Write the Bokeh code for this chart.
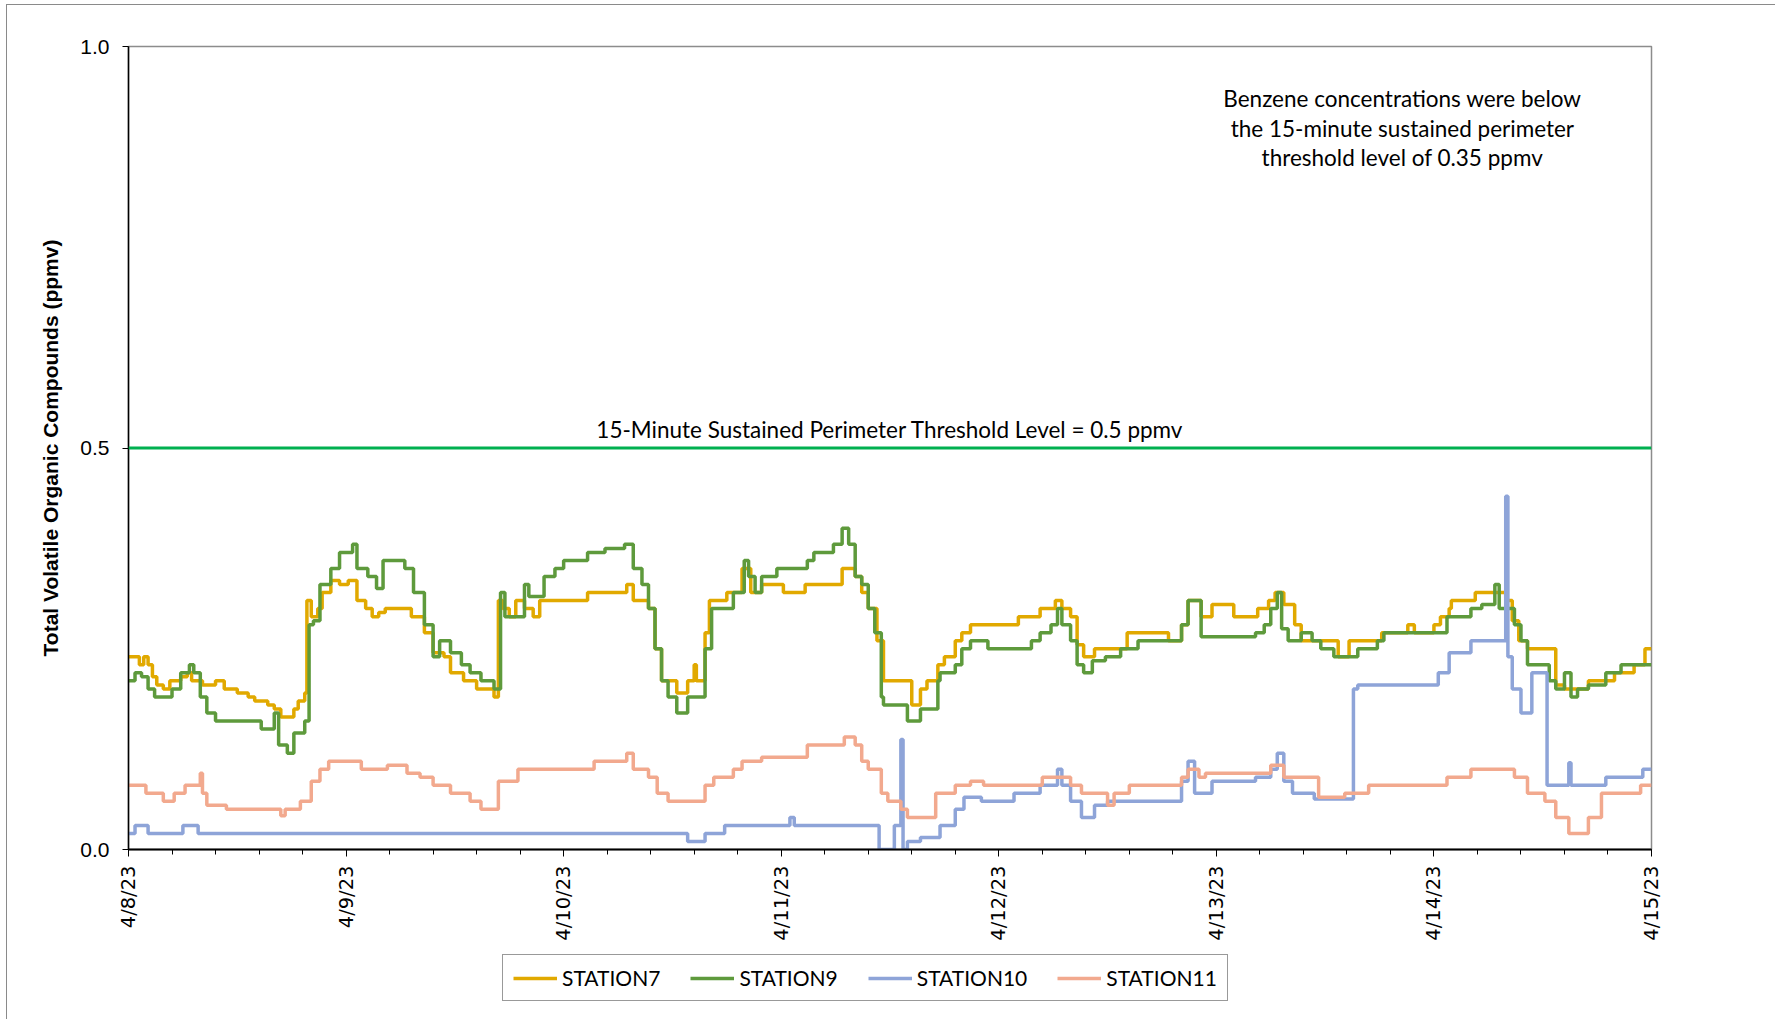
import math
from bokeh.plotting import figure
from bokeh.layouts import column
from bokeh.models import FixedTicker, Span, Label, Legend, LegendItem
from bokeh.embed import file_html
from bokeh.resources import INLINE

# ---------------- data ----------------
DATE_LABELS = ["4/8/23", "4/9/23", "4/10/23", "4/11/23", "4/12/23", "4/13/23", "4/14/23", "4/15/23"]
THRESHOLD = 0.5
THRESHOLD_TEXT = "15-Minute Sustained Perimeter Threshold Level = 0.5 ppmv"
NOTE_LINES = ["Benzene concentrations were below",
              "the 15-minute sustained perimeter",
              "threshold level of 0.35 ppmv"]
Y_LABEL = "Total Volatile Organic Compounds (ppmv)"
SERIES_NAMES = ["STATION7", "STATION9", "STATION10", "STATION11"]

# days since 4/8/23 00:00 (step start) and ppmv
S7_DAY = [0.00, 0.05, 0.07, 0.09, 0.11, 0.13, 0.16, 0.19, 0.24, 0.27, 0.29, 0.34, 0.40, 0.44, 0.50, 0.55,
          0.58, 0.64, 0.67, 0.70, 0.76, 0.78, 0.81, 0.82, 0.84, 0.87, 0.89, 0.93, 0.97, 1.01, 1.05, 1.09,
          1.12, 1.15, 1.18, 1.30, 1.36, 1.40, 1.45, 1.48, 1.54, 1.60, 1.68, 1.70, 1.72, 1.75, 1.78, 1.82,
          1.86, 1.89, 2.11, 2.29, 2.32, 2.39, 2.42, 2.45, 2.52, 2.57, 2.60, 2.61, 2.65, 2.67, 2.75, 2.82,
          2.86, 2.91, 3.01, 3.11, 3.28, 3.34, 3.37, 3.40, 3.44, 3.47, 3.60, 3.64, 3.67, 3.72, 3.75, 3.80,
          3.83, 3.87, 4.09, 4.19, 4.26, 4.29, 4.33, 4.36, 4.39, 4.44, 4.59, 4.78, 4.84, 4.87, 4.93, 4.98,
          5.08, 5.19, 5.24, 5.27, 5.31, 5.36, 5.39, 5.56, 5.61, 5.76, 5.88, 5.91, 6.00, 6.03, 6.07, 6.08,
          6.19, 6.33, 6.36, 6.39, 6.43, 6.56, 6.60, 6.71, 6.83, 6.92, 6.97, 7.00]
S7_PPMV = [0.24, 0.23, 0.24, 0.23, 0.215, 0.205, 0.20, 0.21, 0.215, 0.22, 0.21, 0.205, 0.21, 0.20, 0.195, 0.19,
           0.185, 0.18, 0.175, 0.165, 0.175, 0.185, 0.195, 0.31, 0.29, 0.30, 0.32, 0.335, 0.33, 0.335, 0.31, 0.30,
           0.29, 0.295, 0.30, 0.29, 0.27, 0.245, 0.24, 0.22, 0.21, 0.20, 0.19, 0.31, 0.30, 0.29, 0.31, 0.30,
           0.29, 0.31, 0.32, 0.33, 0.31, 0.30, 0.25, 0.21, 0.195, 0.21, 0.23, 0.21, 0.27, 0.31, 0.32, 0.35,
           0.32, 0.33, 0.32, 0.33, 0.35, 0.34, 0.32, 0.30, 0.26, 0.21, 0.18, 0.20, 0.21, 0.23, 0.24, 0.26,
           0.27, 0.28, 0.29, 0.30, 0.31, 0.30, 0.29, 0.255, 0.24, 0.25, 0.27, 0.26, 0.28, 0.31, 0.29, 0.305,
           0.29, 0.30, 0.31, 0.32, 0.305, 0.28, 0.26, 0.24, 0.26, 0.27, 0.28, 0.27, 0.28, 0.29, 0.30, 0.31,
           0.32, 0.31, 0.285, 0.26, 0.25, 0.205, 0.20, 0.21, 0.22, 0.23, 0.25, 0.25]

S9_DAY = [0.00, 0.03, 0.06, 0.09, 0.12, 0.20, 0.24, 0.28, 0.30, 0.33, 0.36, 0.40, 0.61, 0.67, 0.69, 0.73,
          0.76, 0.81, 0.83, 0.85, 0.88, 0.93, 0.97, 1.03, 1.05, 1.10, 1.14, 1.17, 1.27, 1.31, 1.36, 1.40,
          1.43, 1.48, 1.53, 1.57, 1.62, 1.68, 1.71, 1.73, 1.82, 1.84, 1.91, 1.96, 2.00, 2.11, 2.19, 2.28,
          2.32, 2.36, 2.39, 2.42, 2.45, 2.48, 2.52, 2.57, 2.65, 2.68, 2.78, 2.83, 2.85, 2.88, 2.91, 2.98,
          3.12, 3.15, 3.24, 3.28, 3.31, 3.34, 3.37, 3.40, 3.43, 3.46, 3.47, 3.58, 3.64, 3.72, 3.73, 3.80,
          3.83, 3.87, 3.95, 4.15, 4.19, 4.24, 4.27, 4.29, 4.33, 4.36, 4.39, 4.43, 4.49, 4.56, 4.64, 4.84,
          4.87, 4.93, 5.18, 5.22, 5.25, 5.28, 5.30, 5.33, 5.39, 5.44, 5.48, 5.54, 5.65, 5.74, 5.77, 6.06,
          6.17, 6.22, 6.28, 6.30, 6.37, 6.40, 6.43, 6.53, 6.56, 6.60, 6.63, 6.66, 6.71, 6.79, 6.86, 7.00]
S9_PPMV = [0.21, 0.22, 0.215, 0.20, 0.19, 0.20, 0.22, 0.23, 0.22, 0.19, 0.17, 0.16, 0.15, 0.17, 0.13, 0.12,
           0.145, 0.16, 0.28, 0.285, 0.33, 0.35, 0.37, 0.38, 0.35, 0.34, 0.325, 0.36, 0.35, 0.32, 0.28, 0.24,
           0.26, 0.245, 0.23, 0.22, 0.21, 0.20, 0.32, 0.29, 0.33, 0.315, 0.34, 0.35, 0.36, 0.37, 0.375, 0.38,
           0.35, 0.33, 0.30, 0.25, 0.21, 0.19, 0.17, 0.19, 0.25, 0.30, 0.32, 0.36, 0.34, 0.32, 0.34, 0.35,
           0.36, 0.37, 0.38, 0.40, 0.38, 0.34, 0.33, 0.30, 0.27, 0.19, 0.18, 0.16, 0.175, 0.21, 0.22, 0.23,
           0.25, 0.26, 0.25, 0.26, 0.27, 0.28, 0.30, 0.28, 0.26, 0.23, 0.22, 0.235, 0.24, 0.25, 0.26, 0.28,
           0.31, 0.265, 0.27, 0.28, 0.30, 0.32, 0.275, 0.26, 0.27, 0.26, 0.25, 0.24, 0.25, 0.26, 0.27, 0.29,
           0.30, 0.305, 0.33, 0.30, 0.28, 0.26, 0.23, 0.21, 0.20, 0.22, 0.19, 0.20, 0.205, 0.22, 0.23, 0.23]

S10_DAY = [0.00, 0.03, 0.09, 0.25, 0.32, 2.57, 2.65, 2.74, 3.04, 3.06, 3.45, 3.52, 3.55, 3.56, 3.58, 3.64,
           3.73, 3.80, 3.84, 3.92, 4.07, 4.19, 4.27, 4.29, 4.33, 4.38, 4.44, 4.50, 4.84, 4.87, 4.90, 4.98,
           5.18, 5.25, 5.28, 5.31, 5.35, 5.45, 5.63, 5.65, 6.02, 6.07, 6.17, 6.33, 6.34, 6.36, 6.40, 6.45,
           6.52, 6.62, 6.63, 6.79, 6.96, 7.00]
S10_PPMV = [0.02, 0.03, 0.02, 0.03, 0.02, 0.01, 0.02, 0.03, 0.04, 0.03, 0.00, 0.03, 0.137, 0.00, 0.01, 0.015,
            0.03, 0.05, 0.065, 0.06, 0.07, 0.08, 0.10, 0.08, 0.06, 0.04, 0.055, 0.06, 0.085, 0.11, 0.07, 0.085,
            0.09, 0.10, 0.12, 0.085, 0.07, 0.063, 0.20, 0.205, 0.22, 0.245, 0.26, 0.44, 0.24, 0.20, 0.17, 0.22,
            0.08, 0.108, 0.08, 0.09, 0.10, 0.10]

S11_DAY = [0.00, 0.08, 0.16, 0.21, 0.26, 0.33, 0.34, 0.36, 0.45, 0.70, 0.72, 0.79, 0.84, 0.88, 0.92, 1.07,
           1.19, 1.28, 1.34, 1.40, 1.48, 1.57, 1.62, 1.70, 1.79, 2.14, 2.29, 2.32, 2.39, 2.43, 2.48, 2.65,
           2.69, 2.78, 2.82, 2.91, 3.12, 3.29, 3.34, 3.37, 3.40, 3.46, 3.49, 3.55, 3.58, 3.71, 3.80, 3.87,
           3.93, 4.20, 4.33, 4.38, 4.50, 4.53, 4.60, 4.84, 4.87, 4.92, 4.95, 5.25, 5.31, 5.47, 5.59, 5.70,
           6.06, 6.17, 6.37, 6.43, 6.51, 6.56, 6.62, 6.71, 6.77, 6.95, 7.00]
S11_PPMV = [0.08, 0.07, 0.06, 0.07, 0.08, 0.095, 0.07, 0.055, 0.05, 0.042, 0.05, 0.06, 0.085, 0.10, 0.11, 0.10,
            0.105, 0.095, 0.09, 0.08, 0.07, 0.06, 0.05, 0.085, 0.10, 0.11, 0.12, 0.10, 0.09, 0.07, 0.06, 0.08,
            0.09, 0.10, 0.11, 0.115, 0.13, 0.14, 0.13, 0.11, 0.10, 0.07, 0.06, 0.05, 0.04, 0.07, 0.08, 0.085,
            0.08, 0.09, 0.08, 0.07, 0.055, 0.07, 0.08, 0.09, 0.10, 0.09, 0.095, 0.105, 0.09, 0.065, 0.07, 0.08,
            0.09, 0.10, 0.09, 0.07, 0.06, 0.04, 0.02, 0.04, 0.07, 0.08, 0.08]

SERIES_DAYS = [S7_DAY, S9_DAY, S10_DAY, S11_DAY]
SERIES_VALS = [S7_PPMV, S9_PPMV, S10_PPMV, S11_PPMV]

# ---------------- styling ----------------
COLORS = ["#E1A900", "#5E9A3C", "#8EA4D8", "#F2A98E"]
TXT_FONT = "Lato"
AX_FONT = "Liberation Sans"
W = 1768

p = figure(width=W, height=944, x_range=(0, 7), y_range=(0, 1),
           output_backend="svg", toolbar_location=None, tools="",
           min_border_left=121, min_border_right=124, min_border_top=41, min_border_bottom=100)
p.background_fill_color = "white"
p.border_fill_color = "white"
p.outline_line_color = "#8c8c8c"
p.outline_line_width = 1.5
p.xgrid.visible = False
p.ygrid.visible = False

for days, vals, col in zip(SERIES_DAYS, SERIES_VALS, COLORS):
    p.step(days, vals, mode="after", line_color=col, line_width=3.5)

p.add_layout(Span(location=THRESHOLD, dimension="width", line_color="#00B050", line_width=3))

p.add_layout(Label(x=3.5, y=THRESHOLD, y_offset=5, text=THRESHOLD_TEXT, text_align="center",
                   text_baseline="bottom", text_font=TXT_FONT, text_font_size="22.5px", text_color="#000000"))
for i, line in enumerate(NOTE_LINES):
    p.add_layout(Label(x=5.855, y=0.935, y_offset=-29.5 * i, text=line, text_align="center",
                       text_baseline="middle", text_font=TXT_FONT, text_font_size="22.5px",
                       text_color="#000000"))

# x axis
xa = p.xaxis[0]
xa.ticker = FixedTicker(ticks=list(range(8)), minor_ticks=[i * 0.2 for i in range(36)])
xa.major_label_overrides = {i: lab for i, lab in enumerate(DATE_LABELS)}
xa.major_label_orientation = math.pi / 2
xa.major_label_text_font = "DejaVu Sans"
xa.major_label_text_font_size = "19.5px"
xa.major_label_text_color = "#000000"
xa.major_label_standoff = 9
xa.axis_line_color = "#000000"
xa.axis_line_width = 2
xa.major_tick_out = 7
xa.major_tick_in = 0
xa.minor_tick_out = 5
xa.minor_tick_in = 0
xa.major_tick_line_color = "#000000"
xa.minor_tick_line_color = "#000000"

# y axis
ya = p.yaxis[0]
ya.ticker = FixedTicker(ticks=[0, 0.5, 1.0], minor_ticks=[])
ya.major_label_overrides = {0: "0.0", 0.5: "0.5", 1: "1.0"}
ya.major_label_text_font = AX_FONT
ya.major_label_text_font_size = "21px"
ya.major_label_text_color = "#000000"
ya.major_label_standoff = 13
ya.axis_line_color = "#000000"
ya.axis_line_width = 1.5
ya.major_tick_out = 6
ya.major_tick_in = 0
ya.major_tick_line_color = "#000000"
ya.axis_label = Y_LABEL
ya.axis_label_text_font = AX_FONT
ya.axis_label_text_font_style = "bold"
ya.axis_label_text_font_size = "21px"
ya.axis_label_text_color = "#000000"
ya.axis_label_standoff = 15

# legend strip below the chart: the same series, drawn out of view, only their legend shows
pl = figure(width=W, height=70, x_range=(100, 101), y_range=(100, 101),
            output_backend="svg", toolbar_location=None, tools="",
            x_axis_location=None, y_axis_location=None, min_border=0)
pl.outline_line_color = None
pl.xgrid.visible = False
pl.ygrid.visible = False
pl.background_fill_color = "white"
pl.border_fill_color = "white"
items = []
for name, days, vals, col in zip(SERIES_NAMES, SERIES_DAYS, SERIES_VALS, COLORS):
    r = pl.step(days, vals, mode="after", line_color=col, line_width=3.5)
    items.append(LegendItem(label=name, renderers=[r]))
lg = Legend(items=items, orientation="horizontal", location=(374, 18), margin=0)
lg.label_text_font = TXT_FONT
lg.label_text_font_size = "21px"
lg.label_text_color = "#000000"
lg.glyph_width = 44
lg.glyph_height = 20
lg.label_standoff = 5
lg.spacing = 30
lg.padding = 10
lg.border_line_color = "#333333"
lg.border_line_width = 1
lg.background_fill_color = "white"
lg.background_fill_alpha = 1
pl.add_layout(lg)

layout = column(p, pl, spacing=0,
                styles={"margin-left": "6px", "margin-top": "4px",
                        "border-left": "1.5px solid #8a8a8a", "border-top": "1.5px solid #8a8a8a"})

open("out.html", "w").write(file_html(layout, INLINE))
